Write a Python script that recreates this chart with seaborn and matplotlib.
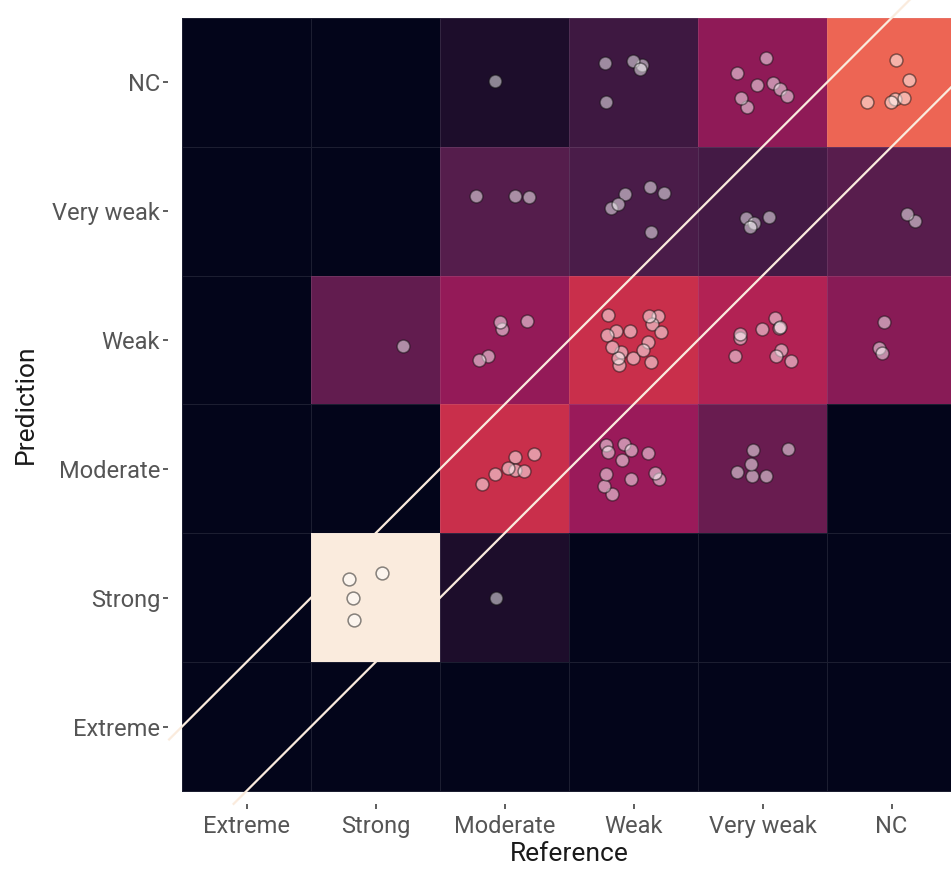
import numpy as np
import pandas as pd
import matplotlib
matplotlib.use("Agg")
import matplotlib.pyplot as plt
import seaborn as sns

levels = ["Extreme", "Strong", "Moderate", "Weak", "Very weak", "NC"]

# Number of items for each reference class, split by predicted class
# (prediction order: Extreme, Strong, Moderate, Weak, Very weak, NC)
ref_extreme = [0, 0, 0, 0, 0, 0]
ref_strong = [0, 4, 0, 1, 0, 0]
ref_moderate = [0, 1, 7, 5, 3, 1]
ref_weak = [0, 0, 12, 16, 6, 5]
ref_very_weak = [0, 0, 6, 10, 4, 8]
ref_nc = [0, 0, 0, 3, 2, 6]

counts = pd.DataFrame(
    {lv: col for lv, col in zip(levels, [ref_extreme, ref_strong, ref_moderate,
                                          ref_weak, ref_very_weak, ref_nc])},
    index=levels,
)
# share of each reference column falling in each predicted class
share = counts.div(counts.sum(axis=0).replace(0, np.nan), axis=1).fillna(0)
grid = share.iloc[::-1]  # NC on top, Extreme at the bottom

# one row per item, jittered inside its cell
rng = np.random.default_rng(11)
rows = []
for ri, ref in enumerate(levels):
    for pi, pred in enumerate(levels):
        n = counts.loc[pred, ref]
        for _ in range(n):
            rows.append({
                "x": ri + 0.5 + rng.uniform(-0.24, 0.24),
                "y": (5 - pi) + 0.5 + rng.uniform(-0.2, 0.2),
            })
items = pd.DataFrame(rows)

# rocket gradient through six anchor colours, blended linearly
rocket = sns.color_palette("rocket", as_cmap=True)
anchors = [rocket(v) for v in np.linspace(0, 1, 6)]
fill_cmap = sns.blend_palette(anchors, as_cmap=True)

plt.rcParams["font.family"] = ["Roboto", "DejaVu Sans"]
fig = plt.figure(figsize=(9.51, 8.69), dpi=100)
W, H = 951, 869
ax = fig.add_axes([182 / W, (H - 791) / H, 774 / W, 773 / H])

sns.heatmap(grid, cmap=fill_cmap, vmin=0, vmax=share.values.max(), cbar=False,
            linewidths=0.6, linecolor=(0.78, 0.78, 0.82, 0.13), ax=ax)
for coll in ax.collections:
    coll.set_clip_on(False)

sns.scatterplot(data=items, x="x", y="y", s=85, color="white", alpha=0.5,
                edgecolor="#111111", linewidth=1.1, ax=ax, zorder=4)

# diagonal band: one class either side of perfect agreement
cream = "#FAEBDD"
for x0, x1, off in [(-0.6, 5.6, 0.5), (-0.1, 5.6, -0.5)]:
    xs = np.array([x0, x1])
    ys = xs + off
    ax.plot(xs + 0.5, 5.5 - ys, color=cream, lw=1.6, clip_on=False, zorder=3)

ax.set_xlim(0, 6)
ax.set_ylim(6, 0)
ax.set_xticks(np.arange(6) + 0.5)
ax.set_xticklabels(levels)
ax.set_yticks(np.arange(6) + 0.5)
ax.set_yticklabels(levels[::-1], rotation=0)

for s in ax.spines.values():
    s.set_visible(False)
ax.spines["bottom"].set_position(("outward", 9.4))
ax.spines["left"].set_position(("outward", 10))

ax.tick_params(axis="both", direction="out", length=3.8, width=1.1,
               color="#333333", labelsize=17, labelcolor="#555555")
ax.tick_params(axis="x", pad=4)
ax.tick_params(axis="y", pad=2)

ax.set_xlabel("Reference", fontsize=19, color="#1a1a1a", labelpad=3)
ax.set_ylabel("Prediction", fontsize=19, color="#1a1a1a", labelpad=10)

fig.savefig("out.png", dpi=100)
